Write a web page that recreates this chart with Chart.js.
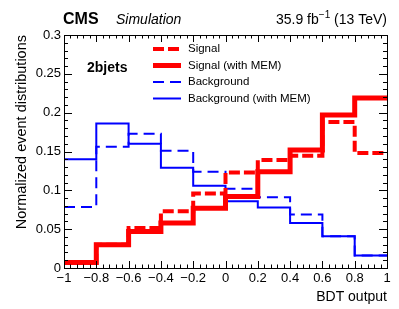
<!DOCTYPE html>
<html>
<head>
<meta charset="utf-8">
<script src="https://cdn.jsdelivr.net/npm/chart.js@4.4.1/dist/chart.umd.min.js"></script>
<style>
  html, body { margin: 0; padding: 0; background: #fff; }
  #wrap { width: 399px; height: 309px; position: relative; }
</style>
</head>
<body>
<div id="wrap"><canvas id="c"></canvas></div>
<script>
// Bin edges of the BDT output histogram (10 bins of 0.2)
const binEdges = [-1, -0.8, -0.6, -0.4, -0.2, 0, 0.2, 0.4, 0.6, 0.8, 1];

// Normalized bin contents
const signal        = [0.007, 0.030, 0.0515, 0.073, 0.096, 0.123, 0.139, 0.1445, 0.188, 0.148];
const signalMEM     = [0.007, 0.030, 0.047, 0.058, 0.077, 0.092, 0.124, 0.152, 0.197, 0.219];
const background    = [0.0785, 0.156, 0.173, 0.151, 0.124, 0.102, 0.091, 0.069, 0.041, 0.016];
const backgroundMEM = [0.140, 0.186, 0.160, 0.129, 0.106, 0.086, 0.078, 0.058, 0.041, 0.016];

const xTicks = [-1, -0.8, -0.6, -0.4, -0.2, 0, 0.2, 0.4, 0.6, 0.8, 1];
const xTickLabels = ['\u22121', '\u22120.8', '\u22120.6', '\u22120.4', '\u22120.2', '0', '0.2', '0.4', '0.6', '0.8', '1'];
const yTicks = [0, 0.05, 0.1, 0.15, 0.2, 0.25, 0.3];
const yTickLabels = ['0', '0.05', '0.1', '0.15', '0.2', '0.25', '0.3'];

const FONT = "'Liberation Sans', Arial, Helvetica, sans-serif";

// histogram -> step points (left edges, plus closing point at last edge)
function toSteps(values) {
  const pts = values.map((v, i) => ({ x: binEdges[i], y: v }));
  pts.push({ x: binEdges[binEdges.length - 1], y: values[values.length - 1] });
  return pts;
}

// ROOT-like frame: box plus inward major/minor ticks on all four sides
const framePlugin = {
  id: 'frame',
  afterDatasetsDraw(chart) {
    const { ctx, chartArea: a, scales: { x, y } } = chart;
    ctx.save();
    ctx.strokeStyle = '#000';
    ctx.lineWidth = 1;
    ctx.beginPath();
    // x ticks, minor every 0.04
    for (let i = 0; i <= 50; i++) {
      const v = -1 + i * 0.04;
      const px = Math.round(x.getPixelForValue(v)) + 0.5;
      const len = i % 5 === 0 ? 7 : 3.5;
      ctx.moveTo(px, a.bottom); ctx.lineTo(px, a.bottom - len);
      ctx.moveTo(px, a.top); ctx.lineTo(px, a.top + len);
    }
    // y ticks, minor every 0.01
    for (let i = 0; i <= 30; i++) {
      const v = i * 0.01;
      const py = Math.round(y.getPixelForValue(v)) + 0.5;
      const len = i % 5 === 0 ? 8 : 4;
      ctx.moveTo(a.left, py); ctx.lineTo(a.left + len, py);
      ctx.moveTo(a.right, py); ctx.lineTo(a.right - len, py);
    }
    ctx.stroke();
    ctx.strokeRect(Math.round(a.left) + 0.5, Math.round(a.top) + 0.5,
      Math.round(a.right - a.left), Math.round(a.bottom - a.top));
    ctx.restore();
  },
  afterDraw(chart) {
    const { ctx } = chart;
    ctx.save();
    ctx.fillStyle = '#000';
    ctx.textBaseline = 'alphabetic';
    // header
    ctx.font = `bold 16px ${FONT}`;
    ctx.textAlign = 'left';
    ctx.fillText('CMS', 63, 24);
    ctx.font = `italic 14px ${FONT}`;
    ctx.fillText('Simulation', 116, 24);
    // lumi label, right aligned to frame
    const p1 = '35.9 fb', p3 = ' (13 TeV)';
    ctx.font = `10px ${FONT}`;
    const wSup = ctx.measureText('\u22121').width;
    ctx.font = `14px ${FONT}`;
    const w1 = ctx.measureText(p1).width, w3 = ctx.measureText(p3).width;
    let xs = chart.chartArea.right - (w1 + wSup + w3);
    ctx.fillText(p1, xs, 24); xs += w1;
    ctx.font = `10px ${FONT}`;
    ctx.fillText('\u22121', xs, 18); xs += wSup;
    ctx.font = `14px ${FONT}`;
    ctx.fillText(p3, xs, 24);
    // category label
    ctx.font = `bold 14px ${FONT}`;
    ctx.textBaseline = 'middle';
    ctx.fillText('2bjets', 87, 68);
    // legend
    const rows = [49, 65.5, 82, 98.5];
    ctx.font = `11.5px ${FONT}`;
    chart.data.datasets.forEach((ds, i) => {
      const yy = rows[i];
      ctx.save();
      ctx.strokeStyle = ds.borderColor;
      ctx.lineWidth = ds.borderWidth;
      ctx.setLineDash(ds.borderDash || []);
      ctx.beginPath();
      ctx.moveTo(153, yy); ctx.lineTo(181, yy);
      ctx.stroke();
      ctx.restore();
      ctx.fillText(ds.label, 188, yy);
    });
    ctx.restore();
  }
};

const ctx = document.getElementById('c');
new Chart(ctx, {
  type: 'line',
  data: {
    datasets: [
      { label: 'Signal', data: toSteps(signal), borderColor: '#ff0000', borderWidth: 4, borderDash: [11, 4] },
      { label: 'Signal (with MEM)', data: toSteps(signalMEM), borderColor: '#ff0000', borderWidth: 5 },
      { label: 'Background', data: toSteps(background), borderColor: '#0000ff', borderWidth: 2, borderDash: [11, 6] },
      { label: 'Background (with MEM)', data: toSteps(backgroundMEM), borderColor: '#0000ff', borderWidth: 2 },
    ],
  },
  options: {
    responsive: true,
    maintainAspectRatio: false,
    animation: false,
    events: [],
    layout: { padding: { top: 35, right: 12, left: 0, bottom: 0 } },
    elements: {
      point: { radius: 0 },
      line: { stepped: true, fill: false, tension: 0, borderJoinStyle: 'miter', borderCapStyle: 'butt' },
    },
    plugins: {
      legend: { display: false },
      tooltip: { enabled: false },
    },
    scales: {
      x: {
        type: 'linear',
        min: -1,
        max: 1,
        afterBuildTicks: s => { s.ticks = xTicks.map(v => ({ value: v })); },
        afterFit: s => { s.height = 41; },
        grid: { display: false, drawTicks: false },
        border: { display: false },
        ticks: {
          color: '#000',
          padding: 3,
          maxRotation: 0,
          autoSkip: false,
          font: { family: FONT, size: 13 },
          callback: (v, i) => xTickLabels[i],
        },
        title: {
          display: true,
          text: 'BDT output',
          align: 'end',
          color: '#000',
          font: { family: FONT, size: 14 },
          padding: { top: 0, bottom: 3 },
        },
      },
      y: {
        type: 'linear',
        min: 0,
        max: 0.3,
        afterBuildTicks: s => { s.ticks = yTicks.map(v => ({ value: v })); },
        afterFit: s => { s.width = 64; },
        grid: { display: false, drawTicks: false },
        border: { display: false },
        ticks: {
          color: '#000',
          padding: 3,
          autoSkip: false,
          font: { family: FONT, size: 13 },
          callback: (v, i) => yTickLabels[i],
        },
        title: {
          display: true,
          text: 'Normalized event distributions',
          align: 'end',
          color: '#000',
          font: { family: FONT, size: 14.5 },
          padding: { top: 13, bottom: 0 },
        },
      },
    },
  },
  plugins: [framePlugin],
});
</script>
</body>
</html>
